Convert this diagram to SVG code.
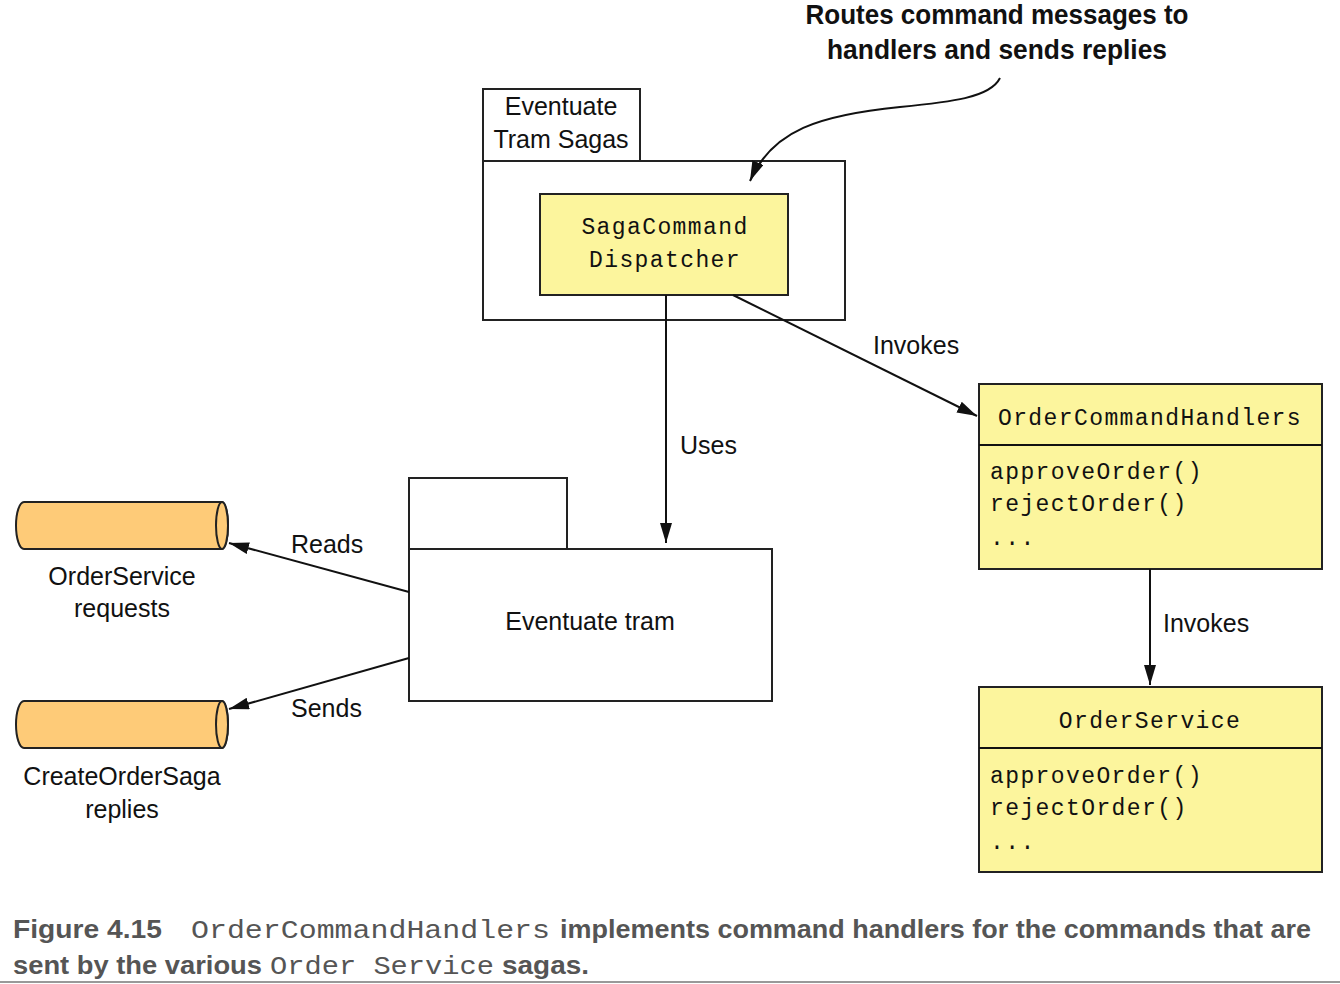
<svg xmlns="http://www.w3.org/2000/svg" width="1340" height="984" viewBox="0 0 1340 984">
<style>
.box{fill:#fff;stroke:#222;stroke-width:2}
.ybox{fill:#fcf59d;stroke:#222;stroke-width:2}
.cyl{fill:#fecb78;stroke:#222;stroke-width:2}
.ln{fill:none;stroke:#111;stroke-width:2}
.sans{font-family:"Liberation Sans",Arial,sans-serif;font-size:25px;fill:#111}
.mono{font-family:"Liberation Mono","Courier New",monospace;font-size:23px;letter-spacing:1.4px;fill:#111}
.call{font-family:"Liberation Sans",Arial,sans-serif;font-weight:bold;font-size:28px;fill:#111}
.cap{font-family:"Liberation Sans",Arial,sans-serif;font-weight:bold;font-size:26px;fill:#555}
.capm{font-family:"Liberation Mono","Courier New",monospace;font-size:26px;fill:#555}
</style>
<defs>
<marker id="ah" viewBox="0 0 20 12" refX="20" refY="6" markerWidth="20" markerHeight="12" markerUnits="userSpaceOnUse" orient="auto">
<path d="M0,0 L20,6 L0,12 z" fill="#111"/>
</marker>
</defs>

<g id="callout">
<text class="call" x="997" y="24" text-anchor="middle" textLength="383" lengthAdjust="spacingAndGlyphs">Routes command messages to</text>
<text class="call" x="997" y="59" text-anchor="middle" textLength="340" lengthAdjust="spacingAndGlyphs">handlers and sends replies</text>
</g>

<g id="eventuate-tram-sagas">
<rect class="box" x="483" y="89" width="157" height="72"/>
<rect class="box" x="483" y="161" width="362" height="159"/>
<text class="sans" x="561" y="115" text-anchor="middle">Eventuate</text>
<text class="sans" x="561" y="148" text-anchor="middle">Tram Sagas</text>
</g>

<g id="saga-command-dispatcher">
<rect class="ybox" x="540" y="194" width="248" height="101"/>
<text class="mono" x="665" y="234" text-anchor="middle">SagaCommand</text>
<text class="mono" x="665" y="267" text-anchor="middle">Dispatcher</text>
</g>

<g id="order-command-handlers">
<rect class="ybox" x="979" y="384" width="343" height="185"/>
<line class="ln" x1="979" y1="445" x2="1322" y2="445"/>
<text class="mono" x="1150" y="425" text-anchor="middle">OrderCommandHandlers</text>
<text class="mono" x="990" y="479">approveOrder()</text>
<text class="mono" x="990" y="511">rejectOrder()</text>
<text class="mono" x="990" y="545">...</text>
</g>

<g id="order-service">
<rect class="ybox" x="979" y="687" width="343" height="185"/>
<line class="ln" x1="979" y1="748" x2="1322" y2="748"/>
<text class="mono" x="1150" y="728" text-anchor="middle">OrderService</text>
<text class="mono" x="990" y="783">approveOrder()</text>
<text class="mono" x="990" y="815">rejectOrder()</text>
<text class="mono" x="990" y="849">...</text>
</g>

<g id="eventuate-tram">
<rect class="box" x="409" y="478" width="158" height="71"/>
<rect class="box" x="409" y="549" width="363" height="152"/>
<text class="sans" x="590" y="630" text-anchor="middle">Eventuate tram</text>
</g>

<g id="orderservice-requests">
<path class="cyl" d="M222,502 L24,502 A8,23.5 0 0 0 24,549 L222,549 A6,23.5 0 0 0 222,502 z"/>
<ellipse class="cyl" cx="222" cy="525.5" rx="6" ry="23.5"/>
<text class="sans" x="122" y="585" text-anchor="middle">OrderService</text>
<text class="sans" x="122" y="617" text-anchor="middle">requests</text>
</g>

<g id="createordersaga-replies">
<path class="cyl" d="M222,701 L24,701 A8,23.5 0 0 0 24,748 L222,748 A6,23.5 0 0 0 222,701 z"/>
<ellipse class="cyl" cx="222" cy="724.5" rx="6" ry="23.5"/>
<text class="sans" x="122" y="785" text-anchor="middle">CreateOrderSaga</text>
<text class="sans" x="122" y="818" text-anchor="middle">replies</text>
</g>

<g id="connectors">
<path class="ln" d="M1000,78 C990,98 950,102 900,107 C820,115 772,130 750,181" marker-end="url(#ah)"/>
<line class="ln" x1="666" y1="295" x2="666" y2="543" marker-end="url(#ah)"/>
<text class="sans" x="680" y="454">Uses</text>
<line class="ln" x1="733" y1="295" x2="977" y2="416" marker-end="url(#ah)"/>
<text class="sans" x="873" y="354">Invokes</text>
<line class="ln" x1="1150" y1="569" x2="1150" y2="685" marker-end="url(#ah)"/>
<text class="sans" x="1163" y="632">Invokes</text>
<line class="ln" x1="409" y1="592" x2="229" y2="543" marker-end="url(#ah)"/>
<text class="sans" x="291" y="553">Reads</text>
<line class="ln" x1="409" y1="658" x2="229" y2="709" marker-end="url(#ah)"/>
<text class="sans" x="291" y="717">Sends</text>
</g>

<g id="caption">
<text class="cap" x="13" y="938" textLength="149" lengthAdjust="spacingAndGlyphs">Figure 4.15</text>
<text class="capm" x="191" y="938" textLength="359" lengthAdjust="spacingAndGlyphs">OrderCommandHandlers</text>
<text class="cap" x="560" y="938" textLength="751" lengthAdjust="spacingAndGlyphs">implements command handlers for the commands that are</text>
<text class="cap" x="13" y="974" textLength="249" lengthAdjust="spacingAndGlyphs">sent by the various</text>
<text class="capm" x="270" y="974" textLength="224" lengthAdjust="spacingAndGlyphs">Order Service</text>
<text class="cap" x="502" y="974" textLength="87" lengthAdjust="spacingAndGlyphs">sagas.</text>
<line x1="0" y1="982" x2="1340" y2="982" stroke="#999" stroke-width="2"/>
</g>
</svg>
